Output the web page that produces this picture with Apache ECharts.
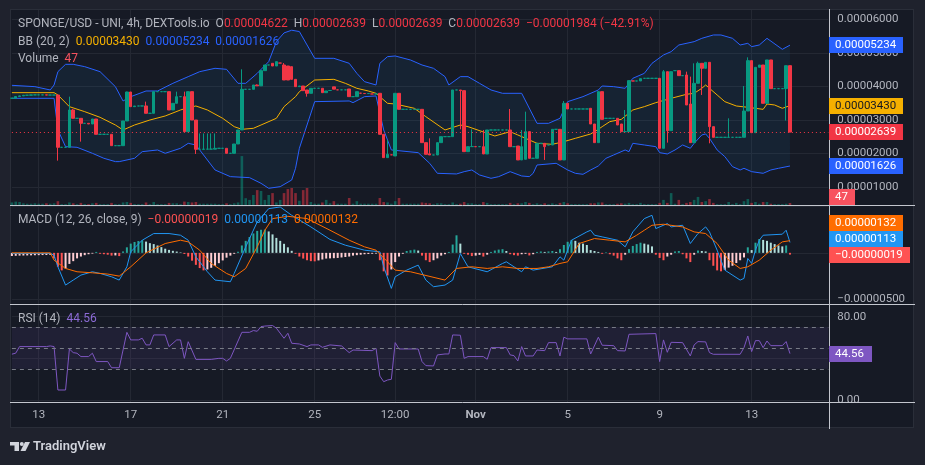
<!DOCTYPE html>
<html>
<head>
<meta charset="utf-8">
<script src="https://cdn.jsdelivr.net/npm/echarts@6/dist/echarts.min.js"></script>
<style>
html,body{margin:0;padding:0;background:#1f222d;}
#frame{position:absolute;left:10px;top:9px;width:904px;height:419px;background:#161a25;border:1px solid #2a2e39;box-sizing:border-box;}
#chart{position:absolute;left:0;top:0;width:925px;height:465px;}
</style>
</head>
<body>
<div id="frame"></div>
<div id="chart"></div>
<script>
// prices are in units of 1e-8 USD (4622 = 0.00004622)
const tickSlots = [7, 31, 55, 79, 100, 121, 145, 169, 193]
const tickLabels = ['13', '17', '21', '25', '12:00', 'Nov', '5', '9', '13']
const N_SLOTS = 214

// [open, close, low, high], one per 4h bar
const candles = [
  [3650,3650,3650,3650],[3650,3700,3640,3710],[3700,3720,3700,3730],[3720,3740,3720,3740],
  [3740,3740,3740,3740],[3740,3750,3740,3750],[3750,3750,3750,3750],[3750,3750,3750,3750],
  [3750,3750,3750,3750],[3750,3745,3745,3750],[3745,3745,3745,3745],[3745,3745,3745,3745],
  [3745,2185,1787,3745],[2185,2185,2185,2185],[2185,2185,2185,2185],[2185,3299,2185,3697],
  [3299,3050,3050,3330],[3050,3050,3050,3050],[3050,2901,2354,3050],[2901,2901,2901,2901],
  [2901,2881,2881,2901],[2881,3030,2881,3030],[3030,2573,2573,3030],[2573,2573,2573,2573],
  [2573,2573,2573,2573],[2573,2573,2573,2573],[2573,2234,2234,2573],[2234,2234,2234,2234],
  [2234,2234,2234,2234],[2234,2971,2234,2971],[2971,3836,2971,3846],[3836,3398,3398,3836],
  [3398,3418,3398,3418],[3418,3418,3418,3418],[3418,3420,3418,3420],[3420,3200,3200,3548],
  [3200,3200,3200,3200],[3200,3846,3200,3846],[3846,3846,3846,3846],[3846,3846,3846,3846],
  [3846,3846,3846,3846],[3846,3299,3299,3846],[3299,3498,3299,3498],[3498,3697,3498,3846],
  [3697,3697,3697,3697],[3697,2652,2652,3846],[2652,3846,2652,3846],[3846,3000,3000,3846],
  [3000,2125,1986,3000],[2125,2125,2125,2600],[2125,2130,2125,2600],[2130,2130,2130,2600],
  [2130,2130,2130,2600],[2130,2155,2130,2600],[2155,2155,2155,2155],[2155,2155,2155,2155],
  [2155,2006,2006,2155],[2006,2006,2006,2006],[2006,2284,2006,2284],[2284,2702,2284,2702],
  [2702,3916,2702,4513],[3916,3916,3916,3916],[3916,3916,3916,3916],[3916,4045,3916,4045],
  [4045,4020,4020,4060],[4020,4473,4020,4473],[4473,4642,4473,4642],[4642,4642,4642,4642],
  [4692,4612,4612,4692],[4612,4742,4612,4742],[4700,4700,4700,4700],[4642,4194,4194,4700],
  [4612,4194,4194,4612],[4592,4214,4214,4592],[4214,3995,3995,4214],[3995,4015,3995,4015],
  [4015,3876,3876,4015],[3896,3797,3697,3896],[3797,3946,3797,3946],[3946,3946,3946,3946],
  [3946,3946,3946,3946],[3946,3816,3816,3946],[3816,3866,3816,3866],[3880,3880,3880,3880],
  [3990,3920,3920,3990],[3900,3900,3900,3900],[3900,3900,3900,3900],[3900,3900,3900,3900],
  [3926,3697,3697,3926],[3697,3697,3697,3697],[3697,3846,3697,3846],[3800,3800,3800,3800],
  [3790,3790,3790,3790],[3790,3790,3790,3790],[3777,3777,3777,3777],[3777,3777,3777,3777],
  [3797,2573,2573,3797],[2573,1876,1876,2573],[1876,1976,1876,2404],[1960,1960,1960,1960],
  [1926,3797,1926,3797],[3797,3319,3319,3797],[3319,3319,3319,3319],[3319,3319,3319,3319],
  [3319,3319,3319,3319],[3319,3319,3319,3319],[3319,3319,3319,3319],[3319,2324,2324,3319],
  [2324,1976,1976,2324],[1990,1956,1956,2453],[1956,1956,1956,1956],[1956,2324,1956,2324],
  [2324,2503,2324,2503],[2503,2503,2503,2503],[2503,2503,2503,2503],[2503,3896,2503,3896],
  [3896,3896,3896,3896],[3896,3876,2722,3896],[3876,2055,2055,3876],[2055,2204,2055,2204],
  [2204,2210,2204,2722],[2204,2204,2204,2204],[2204,2204,2204,2204],[2204,1986,1986,2702],
  [1986,2702,1986,2702],[2702,2702,2702,2702],[2702,2702,2702,2702],[2702,2702,2702,2702],
  [2702,2702,2702,2702],[2702,2702,2702,2702],[2702,2204,2204,3329],[2204,2204,2204,2204],
  [2224,1807,1807,2224],[1807,2204,1807,2702],[1827,2652,1827,3249],[2652,1857,1857,2652],
  [1857,1857,1857,1857],[1857,2304,1857,2304],[2304,2304,2304,2304],[2304,2204,1807,2304],
  [2254,2254,2254,2254],[2254,2722,2254,2722],[2722,2722,2722,2722],[2722,1807,1807,2722],
  [1807,3498,1807,3568],[3498,3329,3329,3498],[3329,3329,3329,3329],[3329,3329,3329,3329],
  [3329,3329,3329,3329],[3329,3329,3329,3329],[3329,3329,3329,3329],[3349,2881,2881,3349],
  [2881,2324,2324,2881],[2324,3846,2324,3846],[3846,3020,3020,3846],[3050,3050,3050,3050],
  [3050,3050,3050,3050],[3050,3050,3050,3050],[3050,2851,2851,3050],[2881,2652,2652,2881],
  [2652,2652,2652,3299],[2652,4175,2652,4175],[4165,4165,4165,4165],[4165,4165,4165,4165],
  [4165,4234,4165,4234],[4244,4244,4244,4244],[4244,4244,4244,4244],[4244,4244,4244,4244],
  [4244,4244,4244,4244],[4244,2155,2155,4244],[2155,4443,2155,4493],[4443,2682,2324,4443],
  [2682,4443,2682,4443],[4473,4473,4473,4473],[4473,4324,4324,4473],[4324,4324,4324,4324],
  [4344,3448,3448,4443],[3478,2324,2324,4294],[2324,4095,2324,4692],[4095,4692,4095,4742],
  [4692,4543,3747,4692],[4543,4722,4543,4722],[4722,2801,2304,4722],[2801,2483,2483,2801],
  [2483,2483,2483,2483],[2483,2483,2483,2483],[2483,2483,2483,2483],[2483,2483,2483,3050],
  [2483,2483,2483,2483],[2483,2483,2483,2483],[2483,2483,2483,2483],[2483,3269,2483,4015],
  [3269,4772,3269,4871],[4772,2622,2622,4772],[2622,4573,2622,4573],[4573,4642,4573,4642],
  [4642,3498,3498,4642],[3498,4792,3498,4792],[4792,3936,3936,4792],[3936,3936,3936,3936],
  [3936,3936,3936,3936],[3936,3936,3936,3936],[3936,4622,2982,4622],[4622,2639,2639,4622]
]

const volume = [
  60,80,70,40,30,30,40,30,30,40,30,40,
  90,20,20,60,40,20,50,20,20,40,50,20,
  20,20,50,20,20,60,70,50,20,20,20,60,
  20,70,20,20,20,50,40,40,20,80,70,60,
  70,30,30,30,30,30,20,20,40,20,40,60,
  1150,160,120,235,350,330,120,235,280,60,120,280,
  375,400,280,100,350,400,70,30,30,60,120,40,
  90,30,30,30,165,30,90,30,30,30,30,30,
  165,70,60,30,90,165,30,30,30,30,30,60,
  50,40,20,40,40,20,20,60,20,30,70,40,
  40,20,20,70,50,20,20,20,20,20,50,20,
  40,40,70,50,20,40,20,40,20,40,20,50,
  70,40,20,20,20,20,20,40,40,60,60,20,
  20,20,30,40,30,50,20,20,50,20,20,20,
  20,50,120,50,280,30,120,20,50,70,120,190,
  70,90,140,50,20,20,20,70,20,50,20,90,
  140,50,70,30,70,70,30,20,20,20,30,47
]

// Bollinger (20, 2), [bar, value]
const bbUpper = [
  [0,4035],[6,3995],[10,3896],[11,4045],[12,4443],[14,4662],[16,4662],[19,4592],[23,4443],
  [27,3995],[29,3568],[31,3697],[35,3866],[38,3866],[42,4095],[46,4294],[49,4443],[53,4543],
  [56,4513],[59,4095],[61,4095],[64,4393],[67,4742],[69,5339],[71,5600],[73,5680],[75,5640],
  [79,4841],[84,4841],[88,4693],[90,4393],[92,4145],[95,4045],[96,4692],[98,4891],[100,4911],
  [104,4791],[107,4642],[110,4543],[113,4294],[114,4045],[117,4294],[119,4294],[122,4095],
  [125,3896],[128,3797],[133,3797],[137,2901],[140,2901],[143,3050],[145,3548],[149,3697],
  [153,3896],[154,4015],[157,3995],[160,3946],[162,4244],[165,4393],[167,4692],[170,4941],
  [172,5040],[174,5239],[178,5339],[180,5438],[183,5538],[185,5538],[188,5438],[190,5239],
  [192,5289],[193,5190],[195,5239],[197,5438],[201,5110],[203,5234]
]
const bbBasis = [
  [0,3816],[11,3816],[12,3747],[15,3398],[19,3249],[23,3080],[27,2851],[29,2702],[32,2851],
  [36,3000],[40,3120],[44,3299],[46,3369],[48,3418],[51,3299],[55,3050],[58,2801],[60,2722],
  [63,2752],[65,2851],[69,3050],[71,3398],[74,3697],[75,3846],[79,4194],[84,4214],[87,4095],
  [90,3946],[93,3866],[95,3797],[98,3498],[100,3478],[105,3349],[108,3100],[113,2702],
  [117,2851],[119,2801],[124,2603],[126,2523],[130,2652],[132,2553],[137,2304],[141,2274],
  [144,2354],[147,2453],[151,2583],[153,2722],[154,2801],[156,2951],[159,3020],[162,3299],
  [165,3398],[168,3518],[172,3647],[176,3767],[178,3797],[180,3946],[181,4045],[182,3946],
  [184,3747],[186,3548],[189,3418],[192,3379],[196,3319],[197,3478],[199,3448],[201,3349],
  [203,3430]
]
const bbLower = [
  [0,3647],[11,3647],[12,2702],[14,2204],[17,2185],[21,2006],[24,1857],[27,1757],[28,1757],
  [32,1857],[34,2055],[38,2105],[40,2006],[44,2155],[46,2304],[48,2254],[53,1508],[57,1309],
  [62,1279],[65,1110],[67,961],[70,1010],[73,1209],[74,1558],[75,2155],[79,3548],[88,3568],
  [89,3518],[92,3697],[95,3717],[97,2702],[99,2105],[106,2025],[109,1707],[111,1409],
  [116,1389],[118,1458],[120,1508],[122,1359],[125,1259],[127,1309],[130,1458],[133,1329],
  [135,1309],[136,1409],[137,1657],[142,1707],[145,1508],[147,1409],[149,1379],[151,1508],
  [153,1628],[155,1856],[157,1956],[160,2105],[161,2055],[162,2304],[165,2254],[168,2204],
  [169,2025],[171,1986],[173,2105],[175,2254],[177,2155],[178,2304],[180,2553],[181,2583],
  [182,2453],[184,2105],[186,1907],[188,1608],[190,1508],[191,1558],[193,1458],[196,1409],
  [198,1508],[200,1558],[203,1626]
]

// MACD (12, 26, 9), units of 1e-8
const macdLine = [
  [0,-7],[10,-7],[11,-25],[12,-151],[14,-349],[16,-295],[18,-241],[21,-205],[23,-223],
  [26,-259],[28,-295],[30,-151],[31,11],[34,137],[37,209],[41,209],[44,191],[46,137],
  [48,-43],[51,-205],[53,-295],[57,-313],[58,-223],[61,65],[64,335],[67,479],[70,497],
  [73,407],[78,281],[83,145],[87,83],[92,29],[96,11],[97,-151],[99,-385],[100,-259],
  [103,-187],[106,-133],[108,-295],[110,-367],[113,-349],[115,-295],[117,-7],[119,-151],
  [124,-205],[128,-115],[129,-97],[133,-205],[134,-151],[136,-187],[141,-151],[143,-43],
  [144,-79],[146,137],[150,227],[151,245],[152,191],[154,173],[158,137],[160,65],[162,227],
  [165,371],[167,407],[168,263],[171,317],[172,281],[175,299],[177,101],[179,209],[181,281],
  [182,227],[184,29],[186,-187],[190,-295],[191,-277],[192,-61],[193,-115],[194,29],
  [195,137],[196,191],[201,202],[202,245],[203,113]
]
const macdSignal = [
  [0,0],[10,0],[11,-79],[14,-169],[17,-205],[21,-216],[25,-230],[28,-252],[31,-151],[35,0],
  [40,101],[44,137],[46,119],[49,29],[52,-115],[56,-223],[58,-259],[61,-169],[64,65],
  [66,245],[68,371],[72,396],[77,371],[83,245],[88,137],[92,65],[95,29],[98,-97],[100,-187],
  [104,-205],[113,-295],[116,-169],[120,-151],[124,-169],[128,-151],[132,-169],[137,-169],
  [140,-151],[143,-115],[145,-97],[148,101],[152,155],[156,137],[160,119],[163,191],
  [165,245],[167,299],[170,310],[175,281],[178,227],[181,209],[184,101],[187,-79],[190,-169],
  [192,-151],[195,-79],[198,29],[201,119],[203,132]
]
const macdHist = [
  -34,-32,-30,-29,-28,-27,-26,-25,-24,-23,-22,-60,
  -150,-190,-170,-120,-90,-60,-40,-25,-15,-8,10,-10,
  -15,-20,-30,-28,-35,15,60,100,118,128,137,122,
  105,95,80,62,45,32,22,14,5,-12,-40,-85,
  -130,-165,-190,-180,-162,-140,-112,-82,-52,-30,-10,12,
  80,130,172,210,238,250,252,232,200,162,130,98,
  60,22,-10,-40,-62,-80,-90,-92,-82,-72,-62,-60,
  -58,-55,-50,-45,-40,-30,-25,-20,-15,-12,-10,-8,
  -80,-200,-245,-180,-100,-40,-10,20,28,35,25,-30,
  -80,-100,-80,-60,-30,-15,10,90,190,100,-10,-20,
  -35,-30,-22,-40,-20,10,25,35,40,20,-15,-25,
  -30,-15,-10,-28,-15,10,15,10,15,20,10,40,
  85,120,140,130,110,100,85,30,20,10,-10,5,
  -15,-30,-60,-80,-20,40,75,95,110,100,90,70,
  -20,-55,-80,-40,-20,15,20,-15,-60,-100,-20,25,
  20,15,-80,-140,-190,-200,-185,-160,-140,-110,-80,-50,
  60,30,110,150,140,130,110,95,80,70,80,-19
]

// RSI (14)
const rsi = [
  [0,44],[1,45],[2,51.3],[9,51.3],[10,51.9],[11,51.3],[12,9.6],[14,9.6],[15,49],[16,45.5],
  [17,44.9],[18,41.7],[20,41.7],[21,44.9],[22,36.9],[25,36.9],[26,31],[28,31],[30,65],
  [31,57.7],[33,57.7],[34,59.3],[35,52.9],[36,52.9],[37,62.5],[40,62.5],[41,51.3],[43,57.7],
  [44,57.7],[45,40],[46,56],[48,39],[52,39],[54,40],[55,40],[56,37.5],[57,40],[60,65],
  [62,65],[63,66.7],[64,66],[65,70.5],[66,71],[68,71.5],[69,69],[71,59.3],[72,64.1],
  [73,54.5],[75,53.8],[77,51.3],[78,52.9],[80,52.9],[81,50.6],[83,52.9],[86,51.9],[88,45.5],
  [89,48],[94,47.4],[95,49.7],[96,23],[97,17.6],[98,19.2],[99,19.9],[100,55.1],[101,49],
  [106,49],[107,36.9],[108,33],[110,32.7],[111,43.3],[113,44.2],[114,44.2],[115,62.5],
  [117,62.2],[118,40],[119,41.7],[123,41.7],[124,39.1],[125,50.3],[129,50.3],[130,43.3],
  [131,42.6],[132,37.5],[133,51.3],[134,42.3],[136,42.3],[137,48],[139,47.4],[140,55.1],
  [142,55.1],[143,42.3],[144,60.3],[145,58.7],[150,58.7],[151,44.2],[153,60.3],[154,52.6],
  [157,52.2],[158,47.4],[160,47.1],[161,63.1],[168,63.8],[169,36.9],[170,57.7],[171,45.8],
  [172,55.4],[175,55.1],[177,42.3],[178,52.9],[179,56.1],[181,55.8],[182,45.5],[183,43.9],
  [190,43.9],[191,50.3],[192,61.5],[193,46.5],[194,57],[195,57],[196,50.3],[197,56.7],
  [198,52.2],[201,52.2],[202,56.1],[203,44.56]
]

const lastClose = 2639
const lastVolume = 47
const lastBB = [3430, 5234, 1626]
const lastMacd = [-19, 113, 132] // hist, macd, signal
const lastRsi = 44.56

const UP = '#089981', DOWN = '#f23645'
const TXT = '#b2b5be', GRID = '#242833'
const FONT = 'Roboto'
const slots = Array.from({ length: N_SLOTS }, (_, i) => i)
const isTick = i => tickSlots.indexOf(i) >= 0
const px = v => (v / 1e8).toFixed(8)

const chart = echarts.init(document.getElementById('chart'))

const L = 11.9, R = 96.7
function xAx(gi) {
  return {
    type: 'category', gridIndex: gi, data: slots, boundaryGap: false,
    axisLine: { show: false }, axisTick: { show: false },
    axisLabel: { show: false }, splitLine: { show: false }
  }
}
const xAxes = [0, 1, 2, 3, 4].map(xAx)
xAxes[0].splitLine = { show: true, interval: isTick, lineStyle: { color: GRID } }
xAxes[0].axisLabel = {
  show: true, interval: isTick, margin: 7, color: TXT, fontSize: 11.5, fontFamily: FONT,
  formatter: (v, i) => {
    const t = tickLabels[tickSlots.indexOf(i)]
    return t === 'Nov' ? '{b|Nov}' : t
  },
  rich: { b: { fontWeight: 'bold', color: TXT, fontSize: 11.5, fontFamily: FONT } }
}

const yLabel = { color: TXT, fontSize: 11.5, fontFamily: FONT, margin: 9 }
const option = {
  animation: false,
  grid: [
    { left: L, right: R, top: 10, height: 392 },
    { left: L, right: R, top: 19.5, height: 167.5 },
    { left: L, right: R, top: 145, height: 60 },
    { left: L, right: R, top: 206.7, height: 92.3 },
    { left: L, right: R, top: 316.7, height: 83.3 }
  ],
  xAxis: xAxes,
  yAxis: [
    { type: 'value', gridIndex: 0, show: false },
    {
      type: 'value', gridIndex: 1, position: 'right', min: 1000, max: 6000, interval: 1000,
      axisLine: { show: false }, axisTick: { show: false },
      axisLabel: Object.assign({ formatter: v => px(v) }, yLabel),
      splitLine: { lineStyle: { color: GRID } }
    },
    { type: 'value', gridIndex: 2, min: 0, max: 1410, show: false },
    {
      type: 'value', gridIndex: 3, position: 'right', min: -500, max: 500, interval: 500,
      axisLine: { show: false }, axisTick: { show: false },
      axisLabel: Object.assign({ formatter: v => v === -500 ? '\u2212' + px(500) : '' }, yLabel),
      splitLine: { lineStyle: { color: GRID } }
    },
    {
      type: 'value', gridIndex: 4, position: 'right', min: 0, max: 80, interval: 40,
      axisLine: { show: false }, axisTick: { show: false },
      axisLabel: Object.assign({ formatter: v => v.toFixed(2) }, yLabel),
      splitLine: { lineStyle: { color: GRID } }
    }
  ],
  series: [
    {
      type: 'custom', xAxisIndex: 1, yAxisIndex: 1, silent: true, z: 1,
      data: [[0, bbBasis[0][1]]],
      renderItem: (params, api) => {
        const pts = bbUpper.map(p => api.coord(p))
          .concat(bbLower.slice().reverse().map(p => api.coord(p)))
        return { type: 'polygon', shape: { points: pts }, style: { fill: 'rgba(33,150,243,0.07)' } }
      }
    },
    {
      type: 'bar', xAxisIndex: 2, yAxisIndex: 2, data: volume, barWidth: 2.6, z: 1,
      itemStyle: {
        color: p => candles[p.dataIndex][1] >= candles[p.dataIndex][0]
          ? 'rgba(8,153,129,0.5)' : 'rgba(242,54,69,0.5)'
      }
    },
    {
      type: 'line', xAxisIndex: 1, yAxisIndex: 1, data: bbUpper, showSymbol: false, z: 2,
      lineStyle: { color: '#2962ff', width: 1 }, clip: false
    },
    {
      type: 'line', xAxisIndex: 1, yAxisIndex: 1, data: bbLower, showSymbol: false, z: 2,
      lineStyle: { color: '#2962ff', width: 1 }, clip: false
    },
    {
      type: 'line', xAxisIndex: 1, yAxisIndex: 1, data: bbBasis, showSymbol: false, z: 2,
      lineStyle: { color: '#f5b000', width: 1 }
    },
    {
      type: 'candlestick', xAxisIndex: 1, yAxisIndex: 1, data: candles, barWidth: 3, z: 3,
      itemStyle: { color: UP, color0: DOWN, borderColor: UP, borderColor0: DOWN, borderWidth: 1 },
      markLine: {
        silent: true, symbol: 'none', label: { show: false },
        lineStyle: { color: DOWN, type: [1, 3], width: 1 },
        data: [{ yAxis: lastClose }]
      }
    },
    {
      type: 'bar', xAxisIndex: 3, yAxisIndex: 3, data: macdHist, barWidth: 2,
      itemStyle: {
        color: p => {
          const v = macdHist[p.dataIndex]
          const prev = p.dataIndex > 0 ? macdHist[p.dataIndex - 1] : v
          if (v >= 0) return v >= prev ? '#26a69a' : '#b2dfdb'
          return v < prev ? '#ff5252' : '#ffcdd2'
        }
      }
    },
    {
      type: 'line', xAxisIndex: 3, yAxisIndex: 3, data: macdLine, showSymbol: false,
      lineStyle: { color: '#2196f3', width: 1 }
    },
    {
      type: 'line', xAxisIndex: 3, yAxisIndex: 3, data: macdSignal, showSymbol: false,
      lineStyle: { color: '#ff6d00', width: 1 }
    },
    {
      type: 'line', xAxisIndex: 4, yAxisIndex: 4, data: rsi, showSymbol: false,
      lineStyle: { color: '#7e57c2', width: 1 },
      markArea: {
        silent: true, itemStyle: { color: 'rgba(126,87,194,0.1)' },
        data: [[{ yAxis: 30 }, { yAxis: 70 }]]
      },
      markLine: {
        silent: true, symbol: 'none', label: { show: false },
        lineStyle: { color: '#787b86', type: [4, 4], width: 1 },
        data: [{ yAxis: 70 }, { yAxis: 50 }, { yAxis: 30 }]
      }
    }
  ]
}
chart.setOption(option)

// legend texts, pane separators, last-value badges
function rs(c) { return { fill: c, color: c, fontSize: 12, fontFamily: FONT } }
function label(x, y, text, rich) {
  return {
    type: 'text', z: 50,
    style: { x, y, text, rich, font: '12px ' + FONT, fill: TXT, verticalAlign: 'middle', textVerticalAlign: 'middle' }
  }
}
function sep(x1, y1, x2, y2) {
  return { type: 'line', z: 60, shape: { x1, y1, x2, y2 }, style: { stroke: '#c3c6ce', lineWidth: 1 } }
}
function badge(y, text, bg, fg, w) {
  y = Math.round(y)
  return [
    { type: 'rect', z: 70, shape: { x: 829, y: y - 8, width: w, height: 16 }, style: { fill: bg } },
    {
      type: 'text', z: 71,
      style: { x: 835, y, text, fill: fg, font: '11.5px ' + FONT, verticalAlign: 'middle', textVerticalAlign: 'middle' }
    }
  ]
}
const yOf = (ai, v) => chart.convertToPixel({ yAxisIndex: ai }, v)
const sgn = v => (v < 0 ? '\u2212' : '') + px(Math.abs(v))

const g = []
g.push(label(18, 24,
  '{g|SPONGE/USD - UNI, 4h, DEXTools.io  O}{r|' + px(4622) + '}{g|  H}{r|' + px(2639) +
  '}{g|  L}{r|' + px(2639) + '}{g|  C}{r|' + px(lastClose) + '  \u22120.00001984 (\u221242.91%)}',
  { g: rs(TXT), r: rs('#f23645') }))
g.push(label(18, 42,
  '{g|BB (20, 2)  }{y|' + px(lastBB[0]) + '}{g|  }{b|' + px(lastBB[1]) + '}{g|  }{b|' + px(lastBB[2]) + '}',
  { g: rs(TXT), y: rs('#f5b000'), b: rs('#2962ff') }))
g.push(label(18, 59, '{g|Volume  }{v|' + lastVolume + '}', { g: rs(TXT), v: rs('#f7525f') }))
g.push(label(18, 220,
  '{g|MACD (12, 26, close, 9)  }{r|' + sgn(lastMacd[0]) + '}{g|  }{b|' + sgn(lastMacd[1]) +
  '}{g|  }{o|' + sgn(lastMacd[2]) + '}',
  { g: rs(TXT), r: rs('#ff5252'), b: rs('#2196f3'), o: rs('#ff6d00') }))
g.push(label(18, 319, '{g|RSI (14)  }{p|' + lastRsi.toFixed(2) + '}', { g: rs(TXT), p: rs('#8c6bd6') }))

g.push(sep(10, 205.5, 915, 205.5), sep(10, 304.5, 915, 304.5), sep(10, 402.5, 915, 402.5))
g.push(sep(829.5, 9, 829.5, 429))

g.push(...badge(yOf(1, lastBB[1]), px(lastBB[1]), '#2962ff', '#ffffff', 74))
g.push(...badge(yOf(1, lastBB[0]), px(lastBB[0]), '#f5b000', '#131722', 74))
g.push(...badge(yOf(1, lastClose), px(lastClose), '#f23645', '#ffffff', 74))
g.push(...badge(yOf(1, lastBB[2]), px(lastBB[2]), '#2962ff', '#ffffff', 74))
g.push(...badge(Math.min(yOf(2, lastVolume), 197), String(lastVolume), '#f7525f', '#ffffff', 26))

// stack MACD badges upward like the price scale does
const mb = [
  { v: lastMacd[0], c: '#ff5252', w: 81 },
  { v: lastMacd[1], c: '#2196f3', w: 74 },
  { v: lastMacd[2], c: '#ff6d00', w: 74 }
].map(b => Object.assign(b, { y: yOf(3, b.v) })).sort((a, b) => b.y - a.y)
let prevY = Infinity
mb.forEach(b => {
  b.y = Math.min(b.y, prevY - 16)
  prevY = b.y
  g.push(...badge(b.y, sgn(b.v), b.c, '#ffffff', b.w))
})
g.push(...badge(yOf(4, lastRsi), lastRsi.toFixed(2), '#7e57c2', '#ffffff', 43))

// TradingView mark
g.push(
  { type: 'rect', shape: { x: 10, y: 442, width: 9, height: 3.5 }, style: { fill: '#d1d4dc' } },
  { type: 'rect', shape: { x: 14.5, y: 442, width: 4.5, height: 9 }, style: { fill: '#d1d4dc' } },
  { type: 'circle', shape: { cx: 21.8, cy: 444, r: 2 }, style: { fill: '#d1d4dc' } },
  { type: 'polygon', shape: { points: [[25, 442], [30, 442], [25.5, 451], [20.5, 451]] }, style: { fill: '#d1d4dc' } },
  {
    type: 'text',
    style: { x: 33, y: 447, text: 'TradingView', fill: '#d1d4dc', font: '600 13px ' + FONT, verticalAlign: 'middle', textVerticalAlign: 'middle' }
  }
)
chart.setOption({ graphic: { elements: g } })
</script>
</body>
</html>
